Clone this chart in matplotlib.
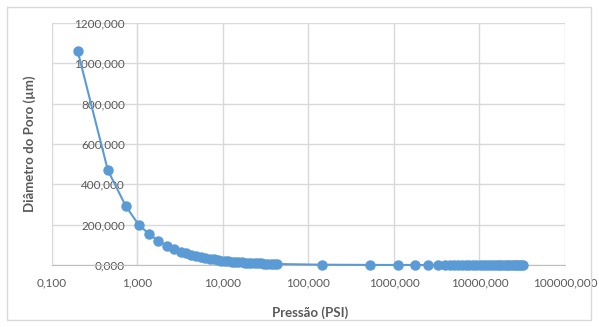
import matplotlib.pyplot as plt
from matplotlib.patches import Rectangle
from matplotlib.ticker import FuncFormatter, NullLocator

# pressure (psi) and pore diameter (um)
pressao = [0.2, 0.45, 0.73, 1.03, 1.38, 1.76, 2.24, 2.69, 3.2, 3.7, 4.2, 4.8, 5.5, 6.2,
           7.0, 7.8, 8.7, 9.6, 10.5, 11.5, 12.6, 13.8, 15.0, 16.5, 18.0, 19.8, 21.5,
           23.5, 25.5, 28.0, 30.5, 33.0, 36.0, 39.5, 43.0,
           142, 525, 1100, 1780, 2500, 3230, 4000,
           4500, 5000, 5600, 6200, 6900, 7600, 8400, 9200, 10100, 11000, 12000, 13000,
           14100, 15200, 16400, 17600, 18900, 20200, 21600, 23000, 24500, 26000, 27600,
           29300, 31000, 32500]
diametro = [1060, 470, 292, 200, 152, 119, 94, 78, 66, 57.6, 50.7, 44.4, 38.7, 34.4,
            30.4, 27.3, 24.5, 22.2, 20.3, 18.5, 16.9, 15.4, 14.2, 12.9, 11.8, 10.8, 9.9,
            9.1, 8.4, 7.6, 7.0, 6.5, 5.9, 5.4, 5.0,
            1.5, 0.41, 0.19, 0.12, 0.085, 0.066, 0.053,
            0.047, 0.043, 0.038, 0.034, 0.031, 0.028, 0.025, 0.023, 0.021, 0.019, 0.018,
            0.016, 0.015, 0.014, 0.013, 0.012, 0.011, 0.011, 0.010, 0.009, 0.009, 0.008,
            0.008, 0.007, 0.007, 0.007]
xticks = [0.1, 1, 10, 100, 1000, 10000, 100000]
yticks = [0, 200, 400, 600, 800, 1000, 1200]

plt.rcParams['font.family'] = ['Lato', 'DejaVu Sans']
cinza = '#595959'
grade = '#D9D9D9'

fig = plt.figure(figsize=(5.99, 3.27), dpi=100)
ax = fig.add_axes([0.0868, 0.1896, 0.8564, 0.7401])

ax.plot(pressao, diametro, color='#5B9BD5', lw=1.5, marker='o', ms=6.5, zorder=3, clip_on=False)

ax.set_xscale('log')
ax.set_xlim(0.1, 100000)
ax.set_ylim(0, 1200)
ax.set_xticks(xticks)
ax.xaxis.set_minor_locator(NullLocator())
ax.set_yticks(yticks)
fmt = FuncFormatter(lambda v, p: f"{v:.3f}".replace('.', ','))
ax.xaxis.set_major_formatter(fmt)
ax.yaxis.set_major_formatter(fmt)

ax.grid(True, color=grade, lw=1)
ax.set_axisbelow(True)
for s in ['top', 'right']:
    ax.spines[s].set_visible(False)
ax.spines['left'].set_position(('data', 1))
ax.spines['left'].set_color(grade)
ax.spines['bottom'].set_color('#BFBFBF')
ax.tick_params(length=0, colors=cinza, labelsize=8.5)
ax.tick_params(axis='y', pad=9)
ax.tick_params(axis='x', pad=9)

fig.text(0.518, 0.045, 'Pressão (PSI)', ha='center', va='center', fontsize=9.5,
         fontweight='bold', color=cinza)
fig.text(0.05, 0.56, 'Diâmetro do Poro (µm)', ha='center', va='center', fontsize=9.5,
         fontweight='bold', color=cinza, rotation=90)

fig.patches.append(Rectangle((0.012, 0.02), 0.975, 0.958, transform=fig.transFigure,
                             fill=False, edgecolor='#D9D9D9', lw=1))

fig.savefig('out.png', dpi=100)
